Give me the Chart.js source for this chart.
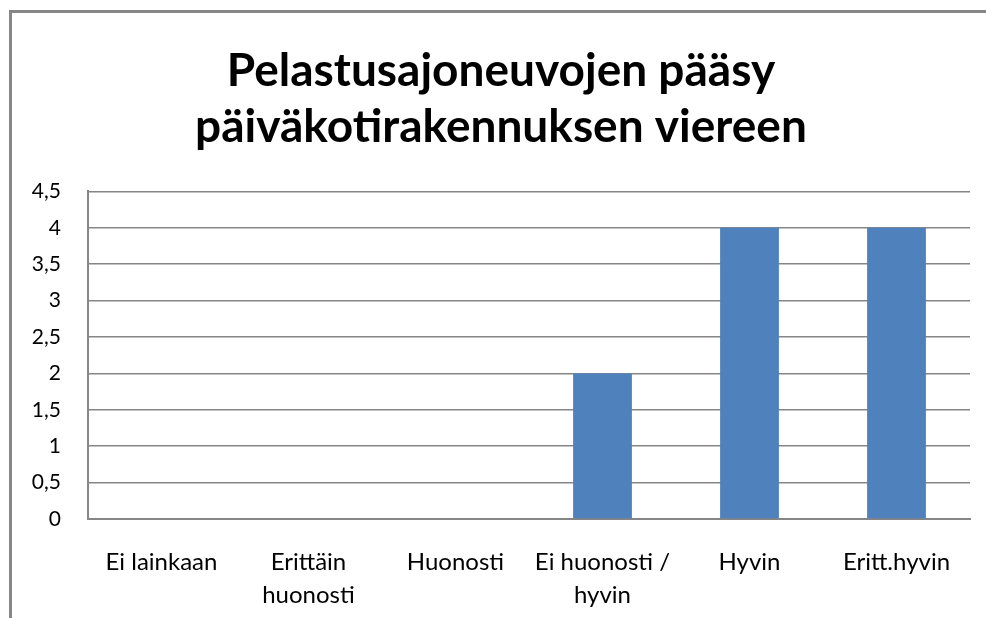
<!DOCTYPE html>
<html>
<head>
<meta charset="utf-8">
<script src="https://cdn.jsdelivr.net/npm/chart.js@4"></script>
<style>
  html, body { margin: 0; padding: 0; background: #fff; }
  #wrap { position: relative; width: 986px; height: 618px; overflow: hidden; }
  #frame { position: absolute; left: 9px; top: 10px; width: 1000px; height: 700px; border: 3px solid #868686; box-sizing: border-box; }
  canvas { position: absolute; left: 0; top: 0; }
</style>
</head>
<body>
<div id="wrap">
  <div id="frame"></div>
  <canvas id="chart" width="986" height="618"></canvas>
</div>
<script>
// vastaukset: pelastusajoneuvojen pääsy
var categories = ['Ei lainkaan', ['Erittäin', 'huonosti'], 'Huonosti', ['Ei huonosti /', 'hyvin'], 'Hyvin', 'Eritt.hyvin'];
var counts = [0, 0, 0, 2, 4, 4];
var titleLines = ['Pelastusajoneuvojen pääsy', 'päiväkotirakennuksen viereen'];

var ctx = document.getElementById('chart').getContext('2d');
new Chart(ctx, {
  type: 'bar',
  data: {
    labels: categories,
    datasets: [{
      label: 'Sarja1',
      data: counts,
      backgroundColor: '#4F81BD',
      barPercentage: 0.4,
      categoryPercentage: 1
    }]
  },
  options: {
    responsive: false,
    animation: false,
    layout: { padding: { left: 32, right: 16, top: 0, bottom: 0 } },
    plugins: {
      legend: { display: false },
      tooltip: { enabled: false },
      title: {
        display: true,
        text: titleLines,
        color: '#000',
        font: { family: 'Lato', size: 46, weight: 'bold', lineHeight: 1.2 },
        padding: { top: 44, bottom: 37 }
      }
    },
    scales: {
      x: {
        grid: { display: false },
        border: { display: true, color: '#868686', width: 2 },
        ticks: {
          color: '#000',
          maxRotation: 0,
          autoSkip: false,
          padding: 18,
          font: { family: 'Lato', size: 24, lineHeight: 1.4 }
        },
        afterFit: function (scale) { scale.height = 99; }
      },
      y: {
        min: 0,
        max: 4.5,
        grid: { color: '#868686', lineWidth: 1.5, drawTicks: false },
        border: { display: true, color: '#868686', width: 2 },
        ticks: {
          stepSize: 0.5,
          color: '#000',
          padding: 27,
          font: { family: 'Lato', size: 21 },
          callback: function (v) { return String(v).replace('.', ','); }
        },
        afterFit: function (scale) { scale.width = 56; }
      }
    }
  }
});
</script>
</body>
</html>
